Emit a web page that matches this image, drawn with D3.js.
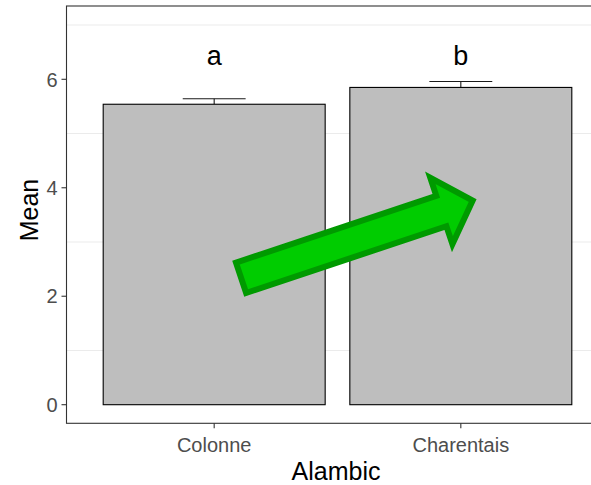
<!DOCTYPE html>
<html><head><meta charset="utf-8">
<script src="https://cdn.jsdelivr.net/npm/d3@7"></script>
<style>body{margin:0;background:#fff}svg{display:block}text{font-family:"Liberation Sans",Arial,sans-serif}</style>
</head><body>
<script>
const categories = ["Colonne", "Charentais"];
const means = [5.54, 5.85];
const errors = [0.10, 0.11];
const letters = ["a", "b"];
const yTicks = [0, 2, 4, 6];
const yMinor = [1, 3, 5, 7];
// arrow annotation: [category index, value] for tail and tip
const arrowTail = [0.109, 2.34];
const arrowTip = [1.048, 3.764];

const W = 591, H = 485;
const P = {left: 66.5, top: 6, right: 608.8, bottom: 423.3};
const svg = d3.select("body").append("svg").attr("width", W).attr("height", H);

const x = d3.scaleBand().domain(categories).range([66.2, 608.8]).paddingInner(0.1).paddingOuter(0.15);
const y = d3.scaleLinear().domain([0, 6]).range([404.7, 79.3]);
const xc = d => x(d) + x.bandwidth() / 2;
const xi = d3.scaleLinear().domain([0, 1]).range([xc(categories[0]), xc(categories[1])]);

// panel bg
svg.append("rect").attr("x", P.left).attr("y", P.top).attr("width", P.right - P.left).attr("height", P.bottom - P.top).attr("fill", "#fff");
// gridlines
svg.append("g").selectAll("line").data(yMinor).join("line")
  .attr("x1", P.left).attr("x2", P.right).attr("y1", d => y(d)).attr("y2", d => y(d))
  .attr("stroke", "#EBEBEB").attr("stroke-width", 1.1);

// error bars (upper)
const data = categories.map((c, i) => ({c, m: means[i], e: errors[i], l: letters[i]}));
const ew = x.step() * 0.255;
const eb = svg.append("g").attr("stroke", "#1a1a1a").attr("stroke-width", 1.1);
eb.selectAll(".v").data(data).join("line").attr("x1", d => xc(d.c)).attr("x2", d => xc(d.c))
  .attr("y1", d => y(d.m)).attr("y2", d => y(d.m + d.e));
eb.selectAll(".h").data(data).join("line").attr("x1", d => xc(d.c) - ew / 2).attr("x2", d => xc(d.c) + ew / 2)
  .attr("y1", d => y(d.m + d.e)).attr("y2", d => y(d.m + d.e));

// bars
svg.append("g").selectAll("rect").data(data).join("rect")
  .attr("x", d => x(d.c)).attr("width", x.bandwidth())
  .attr("y", d => y(d.m)).attr("height", d => y(0) - y(d.m))
  .attr("fill", "#BEBEBE").attr("stroke", "#000").attr("stroke-width", 1.1);

// letters
svg.append("g").selectAll("text").data(data).join("text")
  .attr("x", d => xc(d.c)).attr("y", 65).attr("text-anchor", "middle")
  .attr("font-size", 27).attr("fill", "#000").text(d => d.l);

// arrow
(function () {
  const x0 = xi(arrowTail[0]), y0 = y(arrowTail[1]);
  const x1 = xi(arrowTip[0]), y1 = y(arrowTip[1]);
  const dx = x1 - x0, dy = y1 - y0, L = Math.hypot(dx, dy);
  const ux = dx / L, uy = dy / L, nx = -uy, ny = ux;
  const sw = 16, hw = 35, hl = 33;
  const bx = x1 - ux * hl, by = y1 - uy * hl;
  const pts = [
    [x0 + nx * sw, y0 + ny * sw],
    [bx + nx * sw, by + ny * sw],
    [bx + nx * hw, by + ny * hw],
    [x1, y1],
    [bx - nx * hw, by - ny * hw],
    [bx - nx * sw, by - ny * sw],
    [x0 - nx * sw, y0 - ny * sw]
  ];
  svg.append("path").attr("d", d3.line()(pts) + "Z")
    .attr("fill", "#00CC00").attr("stroke", "#009A00").attr("stroke-width", 6)
    .attr("stroke-linejoin", "miter").attr("stroke-miterlimit", 10);
})();

// panel border
svg.append("rect").attr("x", P.left).attr("y", P.top).attr("width", P.right - P.left).attr("height", P.bottom - P.top)
  .attr("fill", "none").attr("stroke", "#333").attr("stroke-width", 1.1);

// y axis ticks
const ya = svg.append("g");
ya.selectAll("line").data(yTicks).join("line").attr("x1", P.left - 5).attr("x2", P.left)
  .attr("y1", d => y(d)).attr("y2", d => y(d)).attr("stroke", "#333").attr("stroke-width", 1.1);
ya.selectAll("text").data(yTicks).join("text").attr("x", 57.5).attr("y", d => y(d)).attr("dy", "0.36em")
  .attr("text-anchor", "end").attr("font-size", 20).attr("fill", "#4D4D4D").text(d => d);

// x axis ticks
const xa = svg.append("g");
xa.selectAll("line").data(categories).join("line").attr("x1", d => xc(d)).attr("x2", d => xc(d))
  .attr("y1", P.bottom).attr("y2", P.bottom + 5).attr("stroke", "#333").attr("stroke-width", 1.1);
xa.selectAll("text").data(categories).join("text").attr("x", d => xc(d)).attr("y", 452)
  .attr("text-anchor", "middle").attr("font-size", 20).attr("fill", "#4D4D4D").text(d => d);

// titles
svg.append("text").attr("x", 336).attr("y", 479.5).attr("text-anchor", "middle")
  .attr("font-size", 25).attr("fill", "#000").text("Alambic");
svg.append("text").attr("transform", "translate(38.3,210) rotate(-90)").attr("text-anchor", "middle")
  .attr("font-size", 25).attr("fill", "#000").text("Mean");
</script>
</body></html>
